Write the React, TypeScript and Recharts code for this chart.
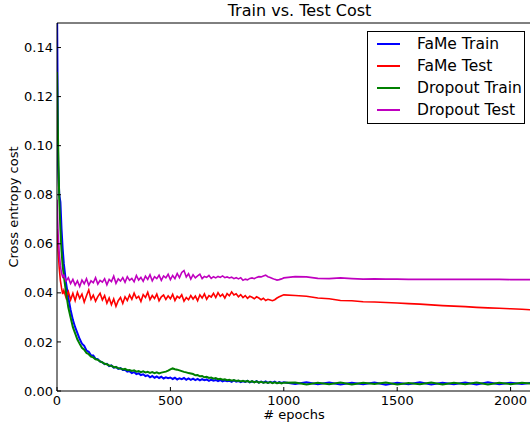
import React from "react";
import { LineChart, Line, XAxis, YAxis, Legend } from "recharts";

const epochs = [
  0, 5, 10, 15, 20, 25, 30, 40, 50, 60, 70, 80, 90,
  100, 110, 120, 130, 140, 150, 160, 170, 180, 190,
  200, 210, 220, 230, 240, 250, 260, 270, 280, 290,
  300, 310, 320, 330, 340, 350, 360, 370, 380, 390,
  400, 410, 420, 430, 440, 450, 460, 470, 480, 490,
  500, 510, 520, 530, 540, 550, 560, 570, 580, 590,
  600, 610, 620, 630, 640, 650, 660, 670, 680, 690,
  700, 710, 720, 730, 740, 750, 760, 770, 780, 790,
  800, 810, 820, 830, 840, 850, 860, 870, 880, 890,
  900, 910, 920, 930, 940, 950, 960, 970, 980, 990,
  1000,
  1050, 1100, 1150, 1200, 1250, 1300, 1350, 1400, 1450, 1500, 1550,
  1600, 1650, 1700, 1750, 1800, 1850, 1900, 1950, 2000, 2050, 2090,
];

const fameTrain = [
  0.16, 0.092, 0.08, 0.077, 0.066, 0.058, 0.052, 0.044, 0.038, 0.033, 0.029, 0.026, 0.0236,
  0.0212, 0.0193, 0.0184, 0.0165, 0.016, 0.0146, 0.0145, 0.0131, 0.013, 0.012,
  0.0117, 0.0109, 0.0111, 0.0101, 0.0104, 0.0095, 0.0098, 0.009, 0.0093, 0.0086,
  0.0087, 0.0079, 0.0081, 0.0073, 0.0077, 0.0069, 0.0072, 0.0065, 0.0068, 0.0061,
  0.0064, 0.0056, 0.0061, 0.0054, 0.0059, 0.0053, 0.0058, 0.0051, 0.0056, 0.0052,
  0.0055, 0.0049, 0.0054, 0.0047, 0.0052, 0.0048, 0.0053, 0.0046, 0.0051, 0.0045,
  0.005, 0.0044, 0.0049, 0.0043, 0.0048, 0.0044, 0.0047, 0.0041, 0.0046, 0.0042,
  0.0045, 0.004, 0.0044, 0.0039, 0.0043, 0.004, 0.0042, 0.0037, 0.0043, 0.0038,
  0.0041, 0.0036, 0.004, 0.0037, 0.0041, 0.0035, 0.0039, 0.0036, 0.004, 0.0034,
  0.0038, 0.0034, 0.0039, 0.0033, 0.0037, 0.0034, 0.0038, 0.0032, 0.0036, 0.0033,
  0.0036,
  0.0029, 0.0036, 0.0028, 0.0035, 0.0027, 0.0034, 0.0028, 0.0035, 0.0026, 0.0034, 0.0028,
  0.0036, 0.0027, 0.0034, 0.0028, 0.0035, 0.0027, 0.0036, 0.0028, 0.0034, 0.0029, 0.0033,
];

const fameTest = [
  0.066, 0.057, 0.05, 0.045, 0.042, 0.0395, 0.041, 0.038, 0.0405, 0.0372, 0.0398, 0.0368, 0.0402,
  0.0378, 0.0395, 0.0362, 0.0388, 0.0412, 0.0374, 0.0391, 0.0366, 0.0385, 0.0398,
  0.0371, 0.0389, 0.0358, 0.0379, 0.0352, 0.0375, 0.0345, 0.0368, 0.0381, 0.0357,
  0.0384, 0.0369, 0.0392, 0.0374, 0.0399, 0.0378, 0.0386, 0.0365, 0.0393, 0.0381,
  0.0402, 0.0372, 0.0389, 0.0377, 0.0395, 0.0368, 0.0384, 0.0391, 0.0373, 0.0388,
  0.0376, 0.0394, 0.0369, 0.0386, 0.0379, 0.0392, 0.0366, 0.0381, 0.0372, 0.0389,
  0.0375, 0.0387, 0.0368, 0.0392, 0.0379, 0.0396, 0.0374, 0.0389, 0.0383, 0.0398,
  0.0381, 0.0401, 0.0386, 0.0394, 0.0379, 0.0397, 0.0388, 0.0404, 0.0391, 0.0396,
  0.0384, 0.0393, 0.0381, 0.0389, 0.0378, 0.0386, 0.0382, 0.0376, 0.0384, 0.0379,
  0.0372, 0.0378, 0.0369, 0.0374, 0.0371, 0.0368, 0.0372, 0.0379, 0.0384, 0.0388,
  0.0392,
  0.0389, 0.0386, 0.0379, 0.0376, 0.0369, 0.0368, 0.0364, 0.0363, 0.0361, 0.0359, 0.0356,
  0.0354, 0.0351, 0.0348, 0.0346, 0.0344, 0.0341, 0.0339, 0.0337, 0.0335, 0.0333, 0.0331,
];

const dropoutTrain = [
  0.13, 0.1, 0.078, 0.066, 0.057, 0.051, 0.047, 0.04, 0.034, 0.03, 0.026, 0.0235, 0.021,
  0.0192, 0.0176, 0.0168, 0.0155, 0.015, 0.014, 0.0137, 0.0129, 0.0127, 0.0121,
  0.0117, 0.0111, 0.0109, 0.0104, 0.0103, 0.0097, 0.0098, 0.0093, 0.0092, 0.0088,
  0.009, 0.0085, 0.0086, 0.0082, 0.0084, 0.0079, 0.0081, 0.0077, 0.008, 0.0076,
  0.0078, 0.0074, 0.0077, 0.0073, 0.0076, 0.0072, 0.0075, 0.0077, 0.0079, 0.0083,
  0.0088, 0.0092, 0.0089, 0.0087, 0.0084, 0.0081, 0.0078, 0.0076, 0.0073, 0.0071,
  0.0069, 0.0064, 0.0065, 0.006, 0.0061, 0.0056, 0.0058, 0.0053, 0.0055, 0.005,
  0.0053, 0.0048, 0.005, 0.0046, 0.0048, 0.0044, 0.0046, 0.0042, 0.0045, 0.0041,
  0.0043, 0.0039, 0.0042, 0.0038, 0.0041, 0.0036, 0.004, 0.0035, 0.0039, 0.0034,
  0.0037, 0.0034, 0.0036, 0.0033, 0.0036, 0.0032, 0.0035, 0.0032, 0.0034, 0.0031,
  0.0034,
  0.0035, 0.0027, 0.0034, 0.0028, 0.0035, 0.0027, 0.0034, 0.0029, 0.0035, 0.0027, 0.0033,
  0.0028, 0.0035, 0.0027, 0.0034, 0.0028, 0.0035, 0.0027, 0.0034, 0.0028, 0.0034, 0.003,
];

const dropoutTest = [
  0.078, 0.064, 0.056, 0.051, 0.048, 0.0465, 0.0472, 0.0448, 0.0462, 0.0438, 0.0455, 0.0432, 0.0449,
  0.0426, 0.0452, 0.0437, 0.0458, 0.0431, 0.0449, 0.0441, 0.0462, 0.0436, 0.0451,
  0.0444, 0.0458, 0.0433, 0.0455, 0.0446, 0.0468, 0.0439, 0.0457, 0.0448, 0.0462,
  0.0443, 0.0466, 0.0451, 0.0459, 0.0445, 0.0471, 0.0452, 0.0463, 0.0447, 0.0468,
  0.0455, 0.0474, 0.0449, 0.0466, 0.0458, 0.0472, 0.0451, 0.0469, 0.0461, 0.0476,
  0.0454, 0.0471, 0.0458, 0.0479, 0.0462, 0.0483, 0.0491, 0.0465, 0.0478, 0.0456,
  0.0474, 0.0461, 0.0469, 0.0476, 0.0458, 0.0467, 0.0463, 0.0471, 0.0459, 0.0466,
  0.0461, 0.0467, 0.0463, 0.0469, 0.0462, 0.0465, 0.0461, 0.0464, 0.0458, 0.0462,
  0.0457, 0.0462, 0.0451, 0.0456, 0.0453, 0.0459, 0.0461, 0.0458, 0.0463, 0.0466,
  0.0465, 0.0469, 0.0472, 0.0466, 0.0463, 0.0459, 0.0455, 0.0452, 0.0454, 0.0457,
  0.0461,
  0.0466, 0.0465, 0.0459, 0.0458, 0.0461, 0.0458, 0.0456, 0.0457, 0.0456, 0.0456, 0.0455,
  0.0455, 0.0455, 0.0455, 0.0455, 0.0455, 0.0455, 0.0455, 0.0455, 0.0454, 0.0454, 0.0454,
];

const seriesNames = ["FaMe Train", "FaMe Test", "Dropout Train", "Dropout Test"];
const xTicks = [0, 500, 1000, 1500, 2000];
const yTicks = [0, 0.02, 0.04, 0.06, 0.08, 0.1, 0.12, 0.14];

const rows = epochs.map((epoch, i) => ({
  epoch,
  fameTrain: fameTrain[i],
  fameTest: fameTest[i],
  dropoutTrain: dropoutTrain[i],
  dropoutTest: dropoutTest[i],
}));

const font = "'DejaVu Sans', sans-serif";

function LegendBox({ payload }: any) {
  const items = [...(payload || [])].sort(
    (a: any, b: any) => seriesNames.indexOf(a.value) - seriesNames.indexOf(b.value)
  );
  return (
    <div
      style={{
        border: "1px solid #000",
        background: "#fff",
        padding: "1px 0",
        fontFamily: font,
        fontSize: 15.5,
        color: "#000",
        boxSizing: "border-box",
        height: 93,
      }}
    >
      {items.map((p: any) => (
        <div key={p.value} style={{ display: "flex", alignItems: "center", height: 22 }}>
          <div style={{ width: 23, height: 1.5, background: p.color, marginLeft: 9, marginRight: 17 }} />
          <span>{p.value}</span>
        </div>
      ))}
    </div>
  );
}

export default function App() {
  return (
    <div
      style={{
        position: "absolute",
        left: 0,
        top: 0,
        width: 530,
        height: 423,
        overflow: "hidden",
        background: "#fff",
        fontFamily: font,
      }}
    >
      <div style={{ position: "absolute", left: 0, width: 599, top: 1, textAlign: "center", fontSize: 16, color: "#000" }}>
        Train vs. Test Cost
      </div>
      <div
        style={{
          position: "absolute",
          left: 13,
          top: 207,
          transform: "translate(-50%, -50%) rotate(-90deg)",
          whiteSpace: "nowrap",
          fontSize: 13,
          color: "#000",
        }}
      >
        Cross entropy cost
      </div>
      <div style={{ position: "absolute", left: 0, width: 588, top: 407, textAlign: "center", fontSize: 13, color: "#000" }}>
        # epochs
      </div>
      <LineChart width={540} height={423} data={rows} margin={{ top: 22, right: 8, bottom: 0, left: 0 }}>
        <XAxis
          xAxisId="b"
          dataKey="epoch"
          type="number"
          domain={[0, 2090]}
          ticks={xTicks}
          allowDataOverflow
          height={32}
          tickSize={-4}
          tickMargin={9}
          stroke="#000"
          tickLine={{ stroke: "#000" }}
          tick={{ fill: "#000", fontSize: 13, fontFamily: font }}
        />
        <XAxis
          xAxisId="t"
          orientation="top"
          type="number"
          domain={[0, 2090]}
          ticks={xTicks}
          height={1}
          tickSize={-4}
          tick={false}
          stroke="#000"
          tickLine={{ stroke: "#000" }}
        />
        <YAxis
          yAxisId="l"
          type="number"
          domain={[0, 0.15]}
          ticks={yTicks}
          allowDataOverflow
          width={57}
          tickSize={-4}
          tickMargin={8}
          stroke="#000"
          tickLine={{ stroke: "#000" }}
          tickFormatter={(v) => Number(v).toFixed(2)}
          tick={{ fill: "#000", fontSize: 13, fontFamily: font }}
        />
        <YAxis
          yAxisId="r"
          orientation="right"
          type="number"
          domain={[0, 0.15]}
          ticks={yTicks}
          width={1}
          tickSize={-4}
          tick={false}
          stroke="#000"
          tickLine={{ stroke: "#000" }}
        />
        <Legend
          layout="vertical"
          align="center"
          verticalAlign="middle"
          content={<LegendBox />}
          wrapperStyle={{ position: "absolute", left: 367, top: 31, width: 158 }}
        />
        <Line xAxisId="b" yAxisId="l" dataKey="fameTrain" name="FaMe Train" stroke="#0000ff" strokeWidth={2} dot={false} isAnimationActive={false} />
        <Line xAxisId="b" yAxisId="l" dataKey="fameTest" name="FaMe Test" stroke="#ff0000" strokeWidth={1.6} dot={false} isAnimationActive={false} />
        <Line xAxisId="b" yAxisId="l" dataKey="dropoutTrain" name="Dropout Train" stroke="#008000" strokeWidth={2} dot={false} isAnimationActive={false} />
        <Line xAxisId="b" yAxisId="l" dataKey="dropoutTest" name="Dropout Test" stroke="#bf00bf" strokeWidth={1.6} dot={false} isAnimationActive={false} />
      </LineChart>
    </div>
  );
}
